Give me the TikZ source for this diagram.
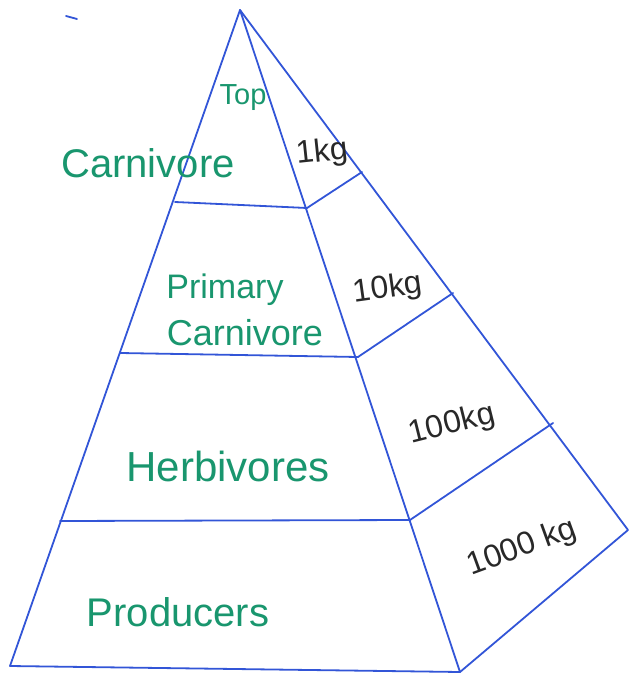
\documentclass[tikz,border=0pt]{standalone}
\usepackage{fontspec}
\setmainfont{Liberation Sans}
\usepackage{tikz}
\usetikzlibrary{calc}
\definecolor{pyrblue}  {RGB}{ 50,  85, 215}
\definecolor{pyrgreen} {RGB}{ 25, 150, 110}
\definecolor{pyrdark}  {RGB}{ 40,  40,  40}

\begin{document}
\begin{tikzpicture}[x=1pt,y=-1pt,
	edge/.style={pyrblue,line width=1.8pt,line cap=round,line join=round},
	level/.style={pyrgreen,font=\fontsize{40}{42}\selectfont},
	mass/.style={pyrdark,font=\fontsize{32}{34}\selectfont}]
	\useasboundingbox (0,0) rectangle (631,676);
	\coordinate (apex) at (240,10);
	\coordinate (FL) at (10,666);
	\coordinate (FR) at (460,672);
	\coordinate (BR) at (628,530);
	% tier corners: left, front right, back right
	\foreach \n/\l/\r/\b in {1/{175,202}/{307,208}/{362,172},
		2/{120,353}/{358,357}/{453,293},
		3/{60,521}/{410,520}/{553,423}}{
		\coordinate (L\n) at (\l);
		\coordinate (R\n) at (\r);
		\coordinate (B\n) at (\b);
		\draw[edge] (L\n)--(R\n)--(B\n);
	}
	\draw[edge] (apex)--(FL)--(FR)--(BR)--cycle;
	\draw[edge] (apex)--(FR);
	\draw[edge] (66,16)--(77,19);
	\node[level,font=\fontsize{29}{31}\selectfont] (top) at (243,98) {Top};
	\node[level] (carn) at (148,163) {Carnivore};
	\node[level,font=\fontsize{34}{36}\selectfont] (prim) at (225,290) {Primary};
	\node[level,font=\fontsize{36}{38}\selectfont] (pcarn) at (245,333) {Carnivore};
	\node[level,font=\fontsize{42}{44}\selectfont] (herb) at (228,466) {Herbivores};
	\node[level] (prod) at (178,612) {Producers};
	\node[mass,rotate=6] (m1) at (322,153) {1kg};
	\node[mass,rotate=8] (m10) at (388,289) {10kg};
	\node[mass,rotate=14] (m100) at (452,425) {100kg};
	\node[mass,rotate=20] (m1000) at (522,548) {1000 kg};
\end{tikzpicture}
\end{document}
